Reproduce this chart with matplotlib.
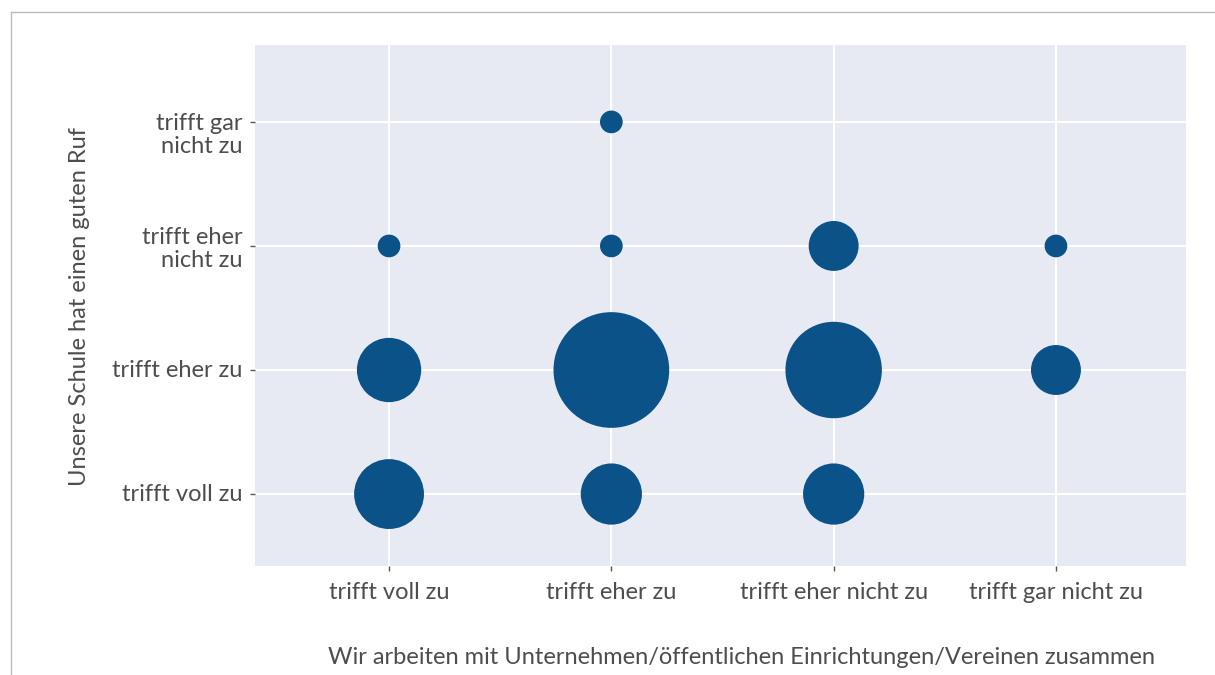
import matplotlib
matplotlib.use("Agg")
import matplotlib.pyplot as plt
from matplotlib.lines import Line2D
from matplotlib.transforms import blended_transform_factory, offset_copy
import numpy as np

plt.rcParams['font.family'] = ['Lato', 'DejaVu Sans']

# answer categories (both axes)
cats = ['trifft voll zu', 'trifft eher zu', 'trifft eher nicht zu', 'trifft gar nicht zu']
y_labels = ['trifft voll zu', 'trifft eher zu', 'trifft eher\nnicht zu', 'trifft gar\nnicht zu']

# x = Zusammenarbeit, y = guter Ruf, n = Anzahl
x_vals = ['trifft voll zu', 'trifft voll zu', 'trifft voll zu',
          'trifft eher zu', 'trifft eher zu', 'trifft eher zu', 'trifft eher zu',
          'trifft eher nicht zu', 'trifft eher nicht zu', 'trifft eher nicht zu',
          'trifft gar nicht zu', 'trifft gar nicht zu']
y_vals = ['trifft voll zu', 'trifft eher zu', 'trifft eher nicht zu',
          'trifft voll zu', 'trifft eher zu', 'trifft eher nicht zu', 'trifft gar nicht zu',
          'trifft voll zu', 'trifft eher zu', 'trifft eher nicht zu',
          'trifft eher zu', 'trifft eher nicht zu']
n_vals = [10, 8, 1,
          7, 36, 1, 1,
          7, 23, 4,
          4, 1]

xpos = np.array([cats.index(v) + 1 for v in x_vals])
ypos = np.array([cats.index(v) + 1 for v in y_vals])
n = np.array(n_vals, dtype=float)

# size scale like ggplot (diameter ~ sqrt of rescaled value)
dpi = 100
d_min, d_max = 22.7, 115.7  # px
t = (n - n.min()) / (n.max() - n.min())
diam_px = d_min + (d_max - d_min) * np.sqrt(t)
sizes = (diam_px * 72 / dpi) ** 2

fs = 17
txt_col = '#4d4d4d'

fig = plt.figure(figsize=(12.15, 6.75), dpi=dpi)
ax = fig.add_axes([255 / 1215, 1 - 566 / 675, (1186 - 255) / 1215, (566 - 45) / 675])
ax.set_facecolor('#e8eaf3')
for s in ax.spines.values():
    s.set_visible(False)

ax.scatter(xpos, ypos, s=sizes, color='#0b5288', linewidths=0, zorder=3)

ax.set_xlim(0.397, 4.585)
ax.set_ylim(0.42, 4.62)
ax.set_xticks([1, 2, 3, 4])
ax.set_xticklabels(cats)
ax.set_yticks([1, 2, 3, 4])
ax.set_yticklabels([])
ax.grid(True, color='white', linewidth=1.5, zorder=1)
ax.set_axisbelow(True)
ax.tick_params(axis='both', color='#555555', length=3.5, width=1, labelsize=fs,
               labelcolor=txt_col)
ax.tick_params(axis='x', pad=8)

# y tick labels drawn as texts (first line of top label sits at tick)
base = blended_transform_factory(ax.transAxes, ax.transData)
for i, lab in enumerate(y_labels):
    if i == 3:
        dy = -9.5
    elif '\n' in lab:
        dy = -2.5
    else:
        dy = 0
    ax.text(0, i + 1, lab, transform=offset_copy(base, fig=fig, x=-9, y=dy, units='points'),
            ha='right', va='center', fontsize=fs, color=txt_col, linespacing=1.12)

fig.text(741 / 1215, 1 - 657 / 675, 'Wir arbeiten mit Unternehmen/öffentlichen Einrichtungen/Vereinen zusammen',
         ha='center', va='center', fontsize=fs, color=txt_col)
fig.text(80 / 1215, 1 - 306 / 675, 'Unsere Schule hat einen guten Ruf', rotation=90,
         ha='center', va='center', fontsize=fs, color=txt_col)

# outer frame (top and left edges visible)
fig.add_artist(Line2D([11 / 1215, 1], [1 - 12 / 675, 1 - 12 / 675], transform=fig.transFigure,
                      color='#bbbbbb', linewidth=1))
fig.add_artist(Line2D([11 / 1215, 11 / 1215], [0, 1 - 12 / 675], transform=fig.transFigure,
                      color='#bbbbbb', linewidth=1))

fig.savefig('out.png', dpi=dpi)
